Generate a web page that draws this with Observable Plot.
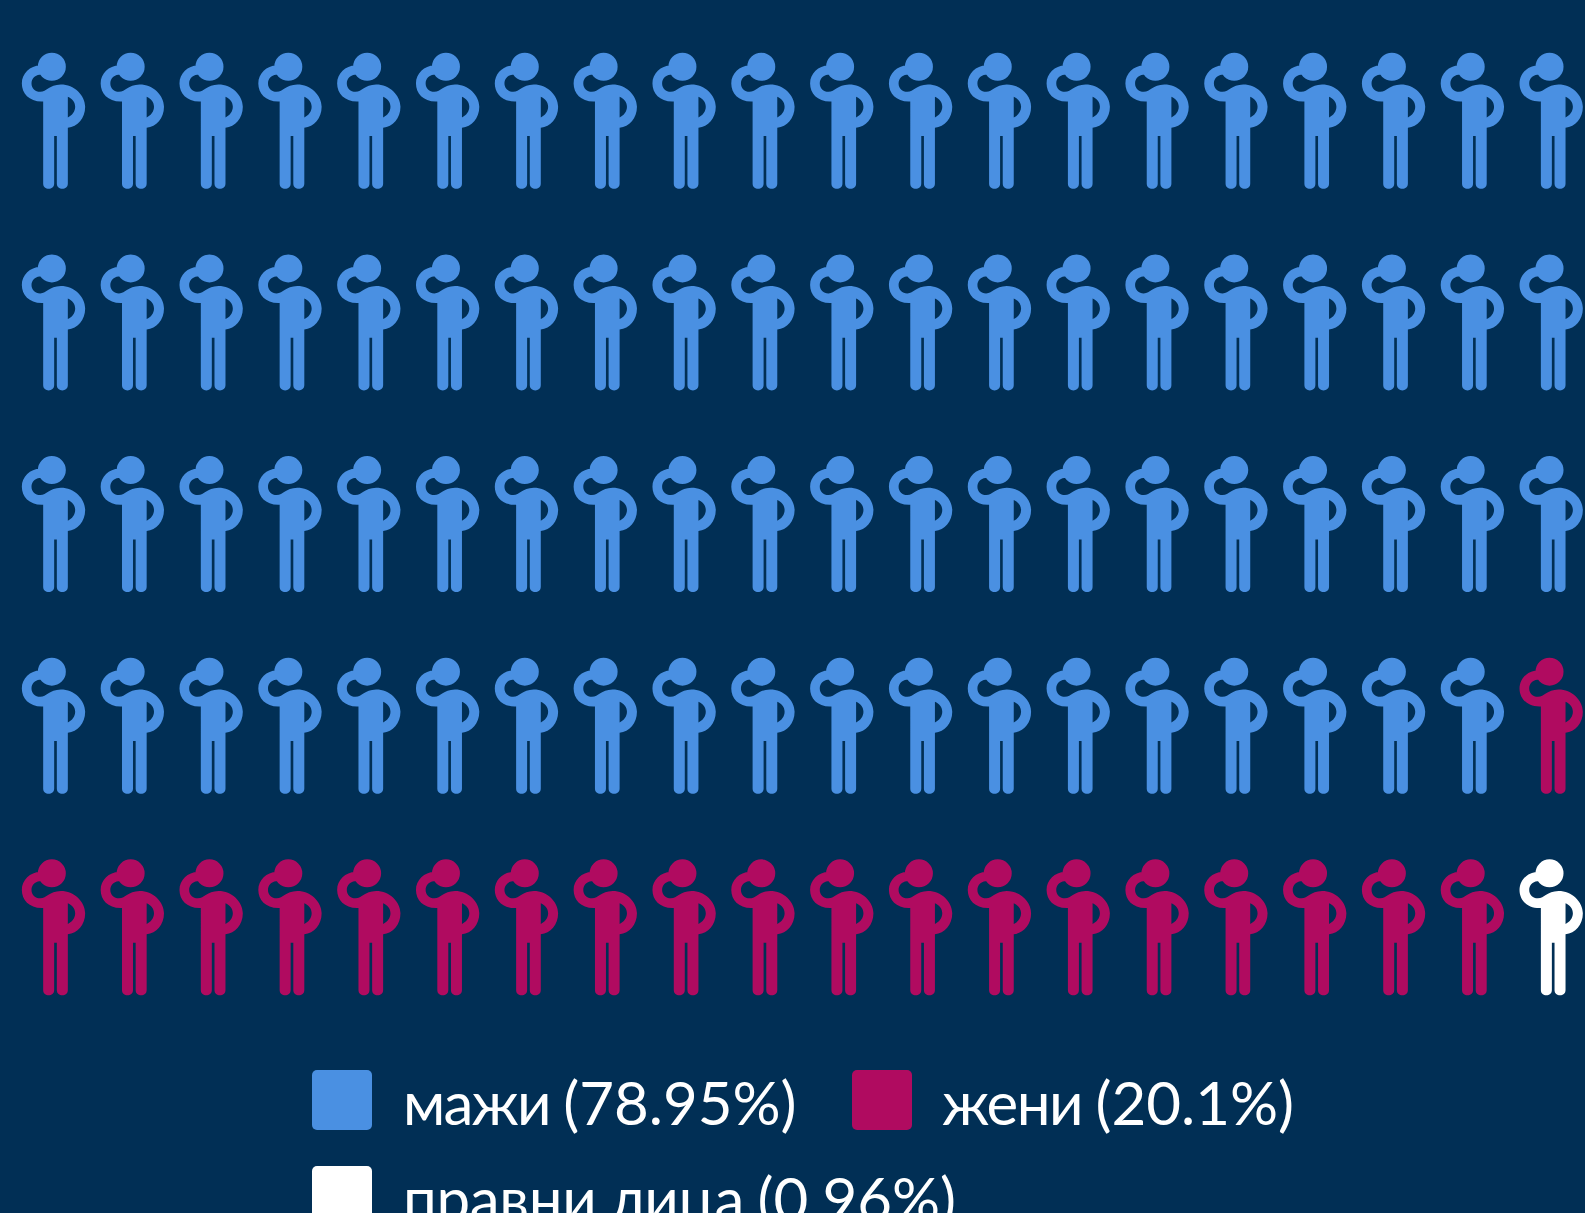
<!DOCTYPE html>
<html lang="mk">
<head>
<meta charset="utf-8">
<script src="https://cdn.jsdelivr.net/npm/d3@7"></script>
<script src="https://cdn.jsdelivr.net/npm/@observablehq/plot@0.6"></script>
<style>
  html, body { margin: 0; padding: 0; background: #012f55; overflow: hidden; width: 1585px; height: 1213px; }
  #chart svg { display: block; }
  #legend { position: absolute; left: 0; top: 0; width: 1585px; height: 1213px; overflow: hidden; pointer-events: none;
            font-family: Lato, "Open Sans", sans-serif; font-size: 60px; color: #fff; }
  .sw { position: absolute; width: 60px; height: 60px; border-radius: 5px; }
  .lb { position: absolute; line-height: 60px; white-space: nowrap; word-spacing: -2px; }
</style>
</head>
<body>
<div id="chart"></div>
<div id="legend"></div>
<script>
const categories = ["мажи", "жени", "правни лица"];
const shares = ["78.95%", "20.1%", "0.96%"];
const counts = [79, 20, 1];
const colors = ["#4a90e2", "#b00b60", "#ffffff"];
const columns = 20;
const rows = 5;

const people = categories.flatMap((c, i) => d3.range(counts[i]).map(() => c))
  .map((category, i) => ({category, col: i % columns, row: Math.floor(i / columns)}));

// Person glyph, in thirds of a pixel around the figure's anchor
const person = {
  draw(ctx, size) {
    const k = Math.sqrt(size / Math.PI) / 10 / 3;
    const X = (x) => (x - 166) * k, Y = (y) => (y - 270) * k;
    const R = (r) => r * k;
    // head
    ctx.moveTo(X(197), Y(110));
    ctx.arc(X(155), Y(110), R(42), 0, 2 * Math.PI);
    // body outline
    ctx.moveTo(X(129), Y(460));
    ctx.lineTo(X(129), Y(214));
    ctx.bezierCurveTo(X(88), Y(216), X(65), Y(190), X(65), Y(160));
    ctx.bezierCurveTo(X(65), Y(130), X(90), Y(106), X(120), Y(106));
    ctx.lineTo(X(140), Y(137));
    ctx.bezierCurveTo(X(128), Y(136), X(124), Y(134), X(118), Y(134));
    ctx.bezierCurveTo(X(104), Y(135), X(94), Y(147), X(94), Y(160));
    ctx.bezierCurveTo(X(94), Y(174), X(105), Y(185), X(120), Y(185));
    ctx.bezierCurveTo(X(140), Y(185), X(146), Y(164), X(182), Y(163));
    ctx.bezierCurveTo(X(222), Y(163), X(255), Y(195), X(255), Y(230));
    ctx.bezierCurveTo(X(255), Y(265), X(232), Y(290), X(203), Y(293));
    ctx.lineTo(X(203), Y(460));
    ctx.bezierCurveTo(X(203), Y(471), X(195), Y(476), X(186.5), Y(476));
    ctx.bezierCurveTo(X(178), Y(476), X(170), Y(471), X(170), Y(460));
    ctx.lineTo(X(170), Y(318));
    ctx.lineTo(X(162), Y(318));
    ctx.lineTo(X(162), Y(460));
    ctx.bezierCurveTo(X(162), Y(471), X(154), Y(476), X(145.5), Y(476));
    ctx.bezierCurveTo(X(137), Y(476), X(129), Y(471), X(129), Y(460));
    ctx.closePath();
    // gap between the arm and the torso
    ctx.moveTo(X(203), Y(262));
    ctx.bezierCurveTo(X(216), Y(256), X(225), Y(244), X(225), Y(230));
    ctx.bezierCurveTo(X(225), Y(217), X(216), Y(205), X(203), Y(200));
    ctx.closePath();
  }
};

const chart = Plot.plot({
  width: 1585,
  height: 1040,
  margin: 0,
  style: {background: "transparent", overflow: "visible"},
  x: {domain: [0, columns - 1], range: [55, 1552.7], axis: null},
  y: {domain: [0, rows - 1], range: [119.6, 926.2], axis: null},
  color: {domain: categories, range: colors, legend: false},
  marks: [
    Plot.dot(people, {x: "col", y: "row", fill: "category", symbol: person, r: 10, stroke: "none"})
  ]
});
document.getElementById("chart").append(chart);

const legend = document.getElementById("legend");
const legendPos = [[312, 1070, 403, -1.8], [852, 1070, 942, -1.5], [312, 1166, 403, -0.3]];
categories.forEach((c, i) => {
  const [sx, sy, tx, tracking] = legendPos[i];
  const s = document.createElement("div");
  s.className = "sw";
  s.style.cssText = `left:${sx}px;top:${sy}px;background:${colors[i]}`;
  const t = document.createElement("div");
  t.className = "lb";
  t.style.cssText = `left:${tx}px;top:${sy + 2}px`;
  const word = document.createElement("span");
  word.style.letterSpacing = `${tracking}px`;
  word.textContent = c;
  t.append(word, ` (${shares[i]})`);
  legend.append(s, t);
});
</script>
</body>
</html>
